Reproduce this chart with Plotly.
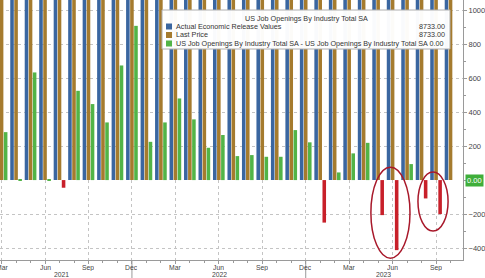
import plotly.graph_objects as go

# ---- data ----
months = ["2021-03","2021-04","2021-05","2021-06","2021-07","2021-08","2021-09","2021-10","2021-11","2021-12",
          "2022-01","2022-02","2022-03","2022-04","2022-05","2022-06","2022-07","2022-08","2022-09","2022-10","2022-11","2022-12",
          "2023-01","2023-02","2023-03","2023-04","2023-05","2023-06","2023-07","2023-08","2023-09","2023-10"]
actual = [8300, 9300, 9500, 10100, 11000, 10600, 11000, 11000, 10900, 11300,
          11300, 11300, 11900, 11400, 11300, 11000, 11200, 10300, 10700, 10500, 11000, 11000,
          10600, 9700, 9700, 10300, 9600, 9200, 8900, 9500, 9500, 8733]
last_price = list(actual)
diff = [282, 5, 633, 5, -45, 525, 447, 339, 674, 907,
        225, 339, 480, 357, 190, 265, 141, 147, 137, 137, 294, 222,
        -250, 45, 157, 219, -206, -412, 94, -108, -200, 0]
tick_months = ["Mar", "Jun", "Sep", "Dec"]
year_labels = ["2021", "2022", "2023"]
y_ticks = [-400, -200, 200, 400, 600, 800, 1000]

BLUE = "#3a66a0"
ORANGE = "#a57b2e"
GREEN = "#52b447"
RED = "#c8202a"

x = list(range(len(months)))
diff_colors = [GREEN if v >= 0 else RED for v in diff]

fig = go.Figure()
fig.add_trace(go.Bar(x=x, y=actual, marker_color=BLUE, marker_line_width=0, name="Actual Economic Release Values"))
fig.add_trace(go.Bar(x=x, y=last_price, marker_color=ORANGE, marker_line_width=0, name="Last Price"))
fig.add_trace(go.Bar(x=x, y=diff, marker_color=diff_colors, marker_line_width=0,
                     name="US Job Openings By Industry Total SA - US Job Openings By Industry Total SA"))

W, H = 485, 278
L, R, T, B = 0, 22, 0, 18
PW, PH = W - L - R, H - T - B


def px(xp):
    return (xp - L) / PW


def py(yp):
    return 1 - (yp - T) / PH


FONT = "Liberation Sans"
TF = 7.2
SF = 6.8
tickvals_x = [i for i in x if i % 3 == 0]

fig.update_layout(
    width=W, height=H,
    margin=dict(l=L, r=R, t=T, b=B),
    paper_bgcolor="white", plot_bgcolor="white",
    barmode="group", bargap=0.16, bargroupgap=0.12,
    showlegend=False,
    font=dict(family=FONT, size=TF, color="#333"),
    xaxis=dict(range=[-0.11, 31.86], tickvals=tickvals_x, showticklabels=False,
               showgrid=True, gridcolor="#c4c4c4", griddash="dot", gridwidth=1,
               showline=True, linecolor="#9a9a9a", linewidth=1,
               ticks="outside", ticklen=3, tickcolor="#9a9a9a",
               minor=dict(dtick=1, tick0=0, ticks="outside", ticklen=2, tickcolor="#9a9a9a", showgrid=False),
               zeroline=False, fixedrange=True),
    yaxis=dict(range=[-470, 1059], side="right", tickvals=y_ticks,
               showgrid=True, gridcolor="#c4c4c4", griddash="dot", gridwidth=1,
               showline=True, linecolor="#9a9a9a", linewidth=1,
               ticks="outside", ticklen=3, tickcolor="#9a9a9a",
               minor=dict(dtick=100, tick0=0, ticks="outside", ticklen=2, tickcolor="#9a9a9a", showgrid=False),
               tickfont=dict(size=7.5, color="#444"), zeroline=False),
)

annotations = []
shapes = []

# month tick labels (as text placed at the ticks, tight under the axis)
for i in tickvals_x:
    annotations.append(dict(x=i, y=py(262.5), xref="x", yref="paper", text=tick_months[(i // 3) % 4],
                            showarrow=False, font=dict(size=SF, color="#444"),
                            xanchor="center", yanchor="top", borderpad=0, height=7, valign="middle"))
# year labels
year_pos = [4.17, 15.08, 26.4]
for yl, xp in zip(year_labels, year_pos):
    annotations.append(dict(x=xp, y=py(270.3), xref="x", yref="paper", text=yl, showarrow=False,
                            font=dict(size=SF, color="#444"), xanchor="center", yanchor="top",
                            borderpad=0, height=7, valign="middle"))
# year separators below axis
for xs in [9, 21]:
    shapes.append(dict(type="line", xref="x", yref="paper", x0=xs, x1=xs, y0=py(260), y1=py(278),
                       line=dict(color="#9a9a9a", width=1)))

# last value tag
annotations.append(dict(x=1, y=diff[-1], xref="paper", yref="y", text="0.00", showarrow=False,
                        xanchor="left", yanchor="middle", xshift=2, bgcolor="#3fae3a",
                        font=dict(size=7.5, color="white"), borderpad=1))

# legend box
shapes.append(dict(type="rect", xref="paper", yref="paper", x0=px(162), x1=px(450), y0=py(49), y1=py(10),
                   fillcolor="rgba(255,255,255,0.97)", line=dict(color="#b0b0b0", width=1), layer="above"))
annotations.append(dict(x=px(306), y=py(18.5), xref="paper", yref="paper", text="US Job Openings By Industry Total SA",
                        showarrow=False, xanchor="center", yanchor="middle", font=dict(size=TF, color="#333")))
rows = [("Actual Economic Release Values", BLUE, "8733.00", 26.5),
        ("Last Price", ORANGE, "8733.00", 35),
        ("US Job Openings By Industry Total SA - US Job Openings By Industry Total SA 0.00", GREEN, None, 43.5)]
for label, col, val, yy in rows:
    shapes.append(dict(type="rect", xref="paper", yref="paper", x0=px(166), x1=px(172), y0=py(yy + 3), y1=py(yy - 3),
                       fillcolor=col, line=dict(width=0), layer="above"))
    annotations.append(dict(x=px(174), y=py(yy), xref="paper", yref="paper", text=label, showarrow=False,
                            xanchor="left", yanchor="middle", font=dict(size=TF, color="#333")))
    if val:
        annotations.append(dict(x=px(447), y=py(yy), xref="paper", yref="paper", text=val, showarrow=False,
                                xanchor="right", yanchor="middle", font=dict(size=TF, color="#333")))

# highlight ellipses
shapes.append(dict(type="circle", xref="x", yref="y", x0=25.5, x1=28.2, y0=-459, y1=76,
                   line=dict(color="#a8182a", width=1.5)))
shapes.append(dict(type="circle", xref="x", yref="y", x0=28.75, x1=30.83, y0=-300, y1=47,
                   line=dict(color="#a8182a", width=1.5)))

fig.update_layout(annotations=annotations, shapes=shapes)
fig.write_html("out.html")
